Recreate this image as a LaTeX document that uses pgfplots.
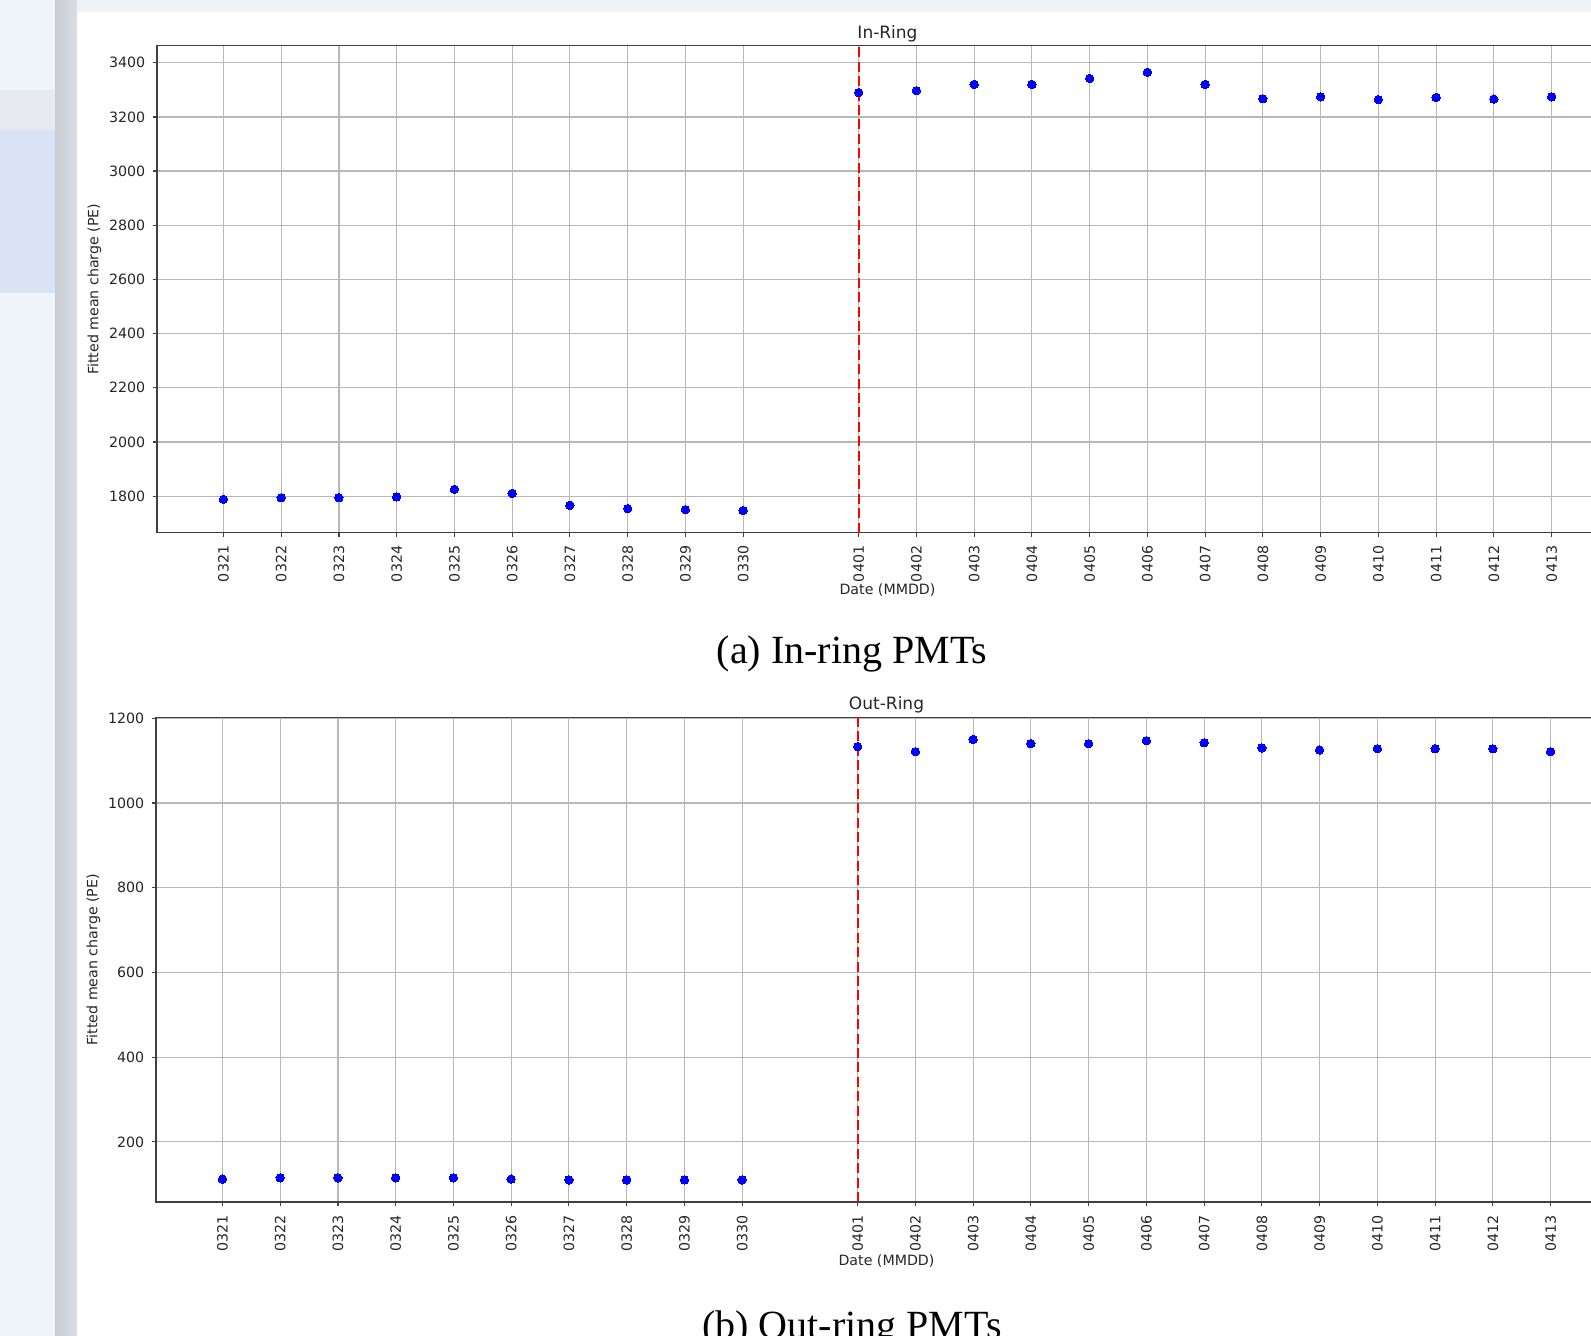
\documentclass[border=0pt]{standalone}
\usepackage{pgfplots}
\pgfplotsset{compat=1.18}
\usepackage{fontspec}
\setmainfont{DejaVu Sans}
\newfontfamily\capfont{Liberation Serif}

\definecolor{gridc}{HTML}{B8B8B8}
\definecolor{spine}{HTML}{404040}
\definecolor{sidebg}{HTML}{F0F5FB}
\definecolor{sidegap}{HTML}{E7EAEF}
\definecolor{sideblue}{HTML}{DAE2F5}
\definecolor{stripl}{HTML}{C9CDD3}
\definecolor{stripr}{HTML}{DADDE3}
\definecolor{topbar}{HTML}{EEF3F8}

% day index: 0321 -> 0, ..., 0330 -> 9, 0401 -> 11, ..., 0413 -> 23
\pgfplotstableread{
x   y
0   1788
1   1794
2   1794
3   1797
4   1825
5   1810
6   1766
7   1754
8   1750
9   1747
11  3290
12  3297
13  3320
14  3320
15  3342
16  3365
17  3320
18  3267
19  3274
20  3264
21  3272
22  3266
23  3274
}\inring

\pgfplotstableread{
x   y
0   112
1   115
2   115
3   115
4   115
5   112
6   110
7   110
8   110
9   110
11  1133
12  1121
13  1150
14  1140
15  1140
16  1147
17  1142
18  1130
19  1125
20  1128
21  1128
22  1128
23  1121
}\outring

\pgfplotsset{
  pmt/.style={
    scale only axis, width=730.5pt,
    xmin=-1.15, xmax=24.15,
    xtick={0,1,2,3,4,5,6,7,8,9,11,12,13,14,15,16,17,18,19,20,21,22,23},
    xticklabels={0321,0322,0323,0324,0325,0326,0327,0328,0329,0330,
                 0401,0402,0403,0404,0405,0406,0407,0408,0409,0410,0411,0412,0413},
    grid=major,
    grid style={gridc, line width=0.6pt},
    axis line style={spine, line width=0.65pt},
    tick align=outside, tick pos=left,
    major tick length=2.2pt,
    tick style={spine, line width=0.6pt},
    tick label style={font=\fontsize{7.1}{8.5}\selectfont, text=black!85},
    /pgf/number format/assume math mode=true,
    /pgf/number format/1000 sep={},
    xticklabel style={rotate=90, anchor=east, inner sep=0pt},
    xticklabel shift=4.2pt,
    yticklabel style={anchor=east, inner sep=0pt},
    yticklabel shift=3.5pt,
    ylabel={Fitted mean charge (PE)},
    ylabel style={at={(axis description cs:-0.0428,0.5)}, anchor=center,
                  font=\fontsize{7.1}{8.5}\selectfont, text=black!85},
    xlabel={Date (MMDD)},
    xlabel style={anchor=center, font=\fontsize{7.1}{8.5}\selectfont, text=black!85},
    title style={at={(axis description cs:0.5,1)}, anchor=base, yshift=-2.2pt,
                 font=\fontsize{8.5}{10}\selectfont, text=black!85},
  },
  dots/.style={only marks, mark=*, mark size=2.1pt,
               mark options={fill=blue, draw=blue, line width=0pt}},
  cut/.style={red, line width=1.1pt, dash pattern=on 5pt off 2.2pt},
}

\begin{document}
\begin{tikzpicture}[x=0.5pt,y=0.5pt]
\useasboundingbox (0,0) rectangle (1591,1336);
\clip (0,0) rectangle (1591,1336);

% page around the figure
\fill[white] (0,0) rectangle (1591,1336);
\fill[sidebg] (0,0) rectangle (55,1336);
\fill[sidegap] (0,1206) rectangle (55,1246);
\fill[sideblue] (0,1043) rectangle (57,1206);
\shade[left color=stripl, right color=stripr] (55,0) rectangle (77,1336);
\fill[topbar] (77,1324) rectangle (1591,1336);

% (a) In-ring
\begin{axis}[pmt,
  at={(78.5pt,645.15pt)}, anchor=north west,
  height=243.5pt,
  ymin=1665, ymax=3463,
  ytick={1800,2000,2200,2400,2600,2800,3000,3200,3400},
  title={In-Ring},
  xlabel style={at={(axis description cs:0.5,-0.1187)}},
]
\addplot[cut] coordinates {(11,1665) (11,3463)};
\addplot[dots] table[x=x, y=y] {\inring};
\end{axis}

% (b) Out-ring
\begin{axis}[pmt,
  at={(78pt,309.3pt)}, anchor=north west,
  height=242.3pt,
  ymin=58, ymax=1202,
  ytick={200,400,600,800,1000,1200},
  title={Out-Ring},
  xlabel style={at={(axis description cs:0.5,-0.1218)}},
]
\addplot[cut] coordinates {(11,58) (11,1202)};
\addplot[dots] table[x=x, y=y] {\outring};
\end{axis}

\node[anchor=base, font=\capfont\fontsize{20}{24}\selectfont] at (852,672) {(a) In-ring PMTs};
\node[anchor=base, font=\capfont\fontsize{20}{24}\selectfont] at (852,-3) {(b) Out-ring PMTs};
\end{tikzpicture}
\end{document}
